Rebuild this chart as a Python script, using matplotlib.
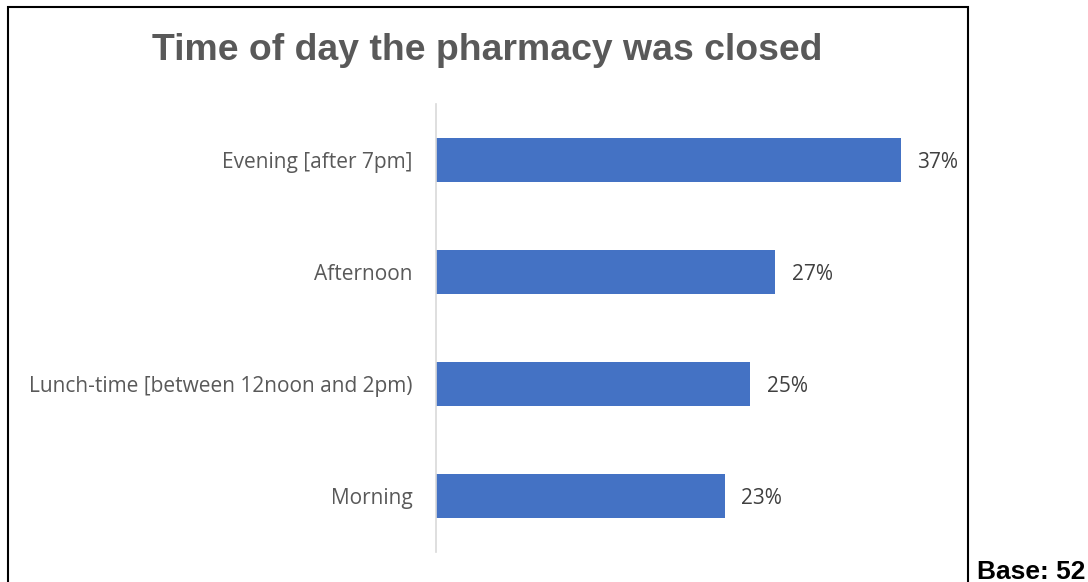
import matplotlib as mpl
mpl.use('Agg')
import matplotlib.pyplot as plt
from matplotlib.patches import Rectangle

categories = ['Morning', 'Lunch-time [between 12noon and 2pm)', 'Afternoon', 'Evening [after 7pm]']
values = [23, 25, 27, 37]
value_labels = ['23%', '25%', '27%', '37%']

W, H = 1088, 582
fig = plt.figure(figsize=(W / 100, H / 100), dpi=100)

left, right, top, bottom = 436, 964, 104, 552
ax = fig.add_axes([left / W, 1 - bottom / H, (right - left) / W, (bottom - top) / H])

ax.barh(range(len(categories)), values, height=0.4, color='#4472C4')
for i, (v, lab) in enumerate(zip(values, value_labels)):
    ax.text(v + 1.3, i - 0.025, lab, va='center', ha='left', fontsize=15,
            color='#404040', family='Open Sans')

ax.set_xlim(0, 42)
ax.set_ylim(-0.5, len(categories) - 0.5)
ax.set_yticks(range(len(categories)))
ax.set_yticklabels(categories, fontsize=15, color='#595959', family='Open Sans')
ax.tick_params(axis='y', length=0, pad=17)
ax.set_xticks([])
for s in ['top', 'right', 'bottom']:
    ax.spines[s].set_visible(False)
ax.spines['left'].set_color('#D9D9D9')
ax.spines['left'].set_linewidth(1.2)

fig.text(487 / W, 1 - 50 / H, 'Time of day the pharmacy was closed', ha='center', va='center',
         fontsize=26.9, fontweight='bold', color='#595959', family='Liberation Sans')

fig.patches.append(Rectangle((8 / W, -0.05), (968 - 8) / W, 1.05 - 7 / H,
                             transform=fig.transFigure, fill=False,
                             edgecolor='black', linewidth=1.5))

fig.text(1085 / W, 1 - 572 / H, 'Base: 52', ha='right', va='center',
         fontsize=19, fontweight='bold', color='black', family='Liberation Sans')

fig.savefig('out.png', dpi=100)
